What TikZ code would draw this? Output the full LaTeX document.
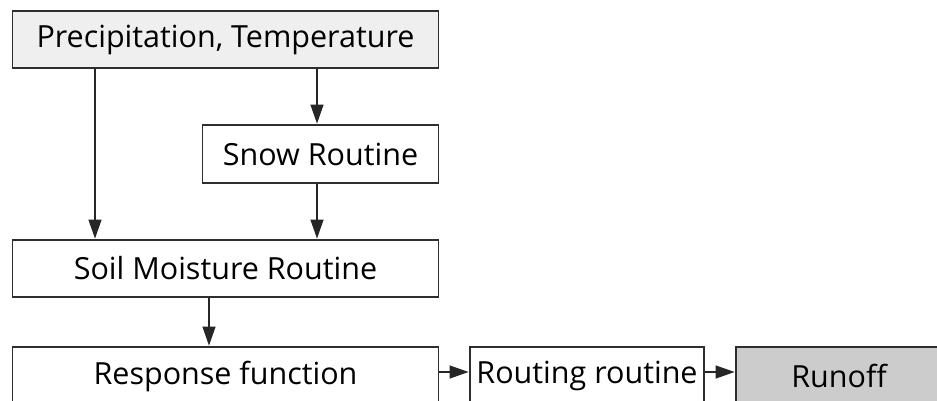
\documentclass[tikz,border=0pt]{standalone}
\usepackage{fontspec}
\setmainfont{Open Sans}
\usetikzlibrary{arrows.meta}
\definecolor{boxline}{HTML}{2E2E2E}
\definecolor{inputfill}{HTML}{EFEFEF}
\definecolor{outputfill}{HTML}{CCCCCC}
\tikzset{
  block/.style={draw=boxline, line width=1.8pt, fill=white, inner sep=0pt,
    font=\fontsize{30.5}{34}\selectfont, text=black},
  flow/.style={draw=black!85, line width=1.2pt,
    -{Triangle[length=19pt,width=13pt]}, shorten >=0.5pt},
}
\begin{document}
\begin{tikzpicture}[x=1pt,y=-1pt]
  \useasboundingbox (0,0) rectangle (937,400);
  \begin{scope}
  \clip (0,0) rectangle (937,400);
  % model blocks
  \node[block, fill=inputfill, minimum width=426pt, minimum height=57pt] (met) at (225.5,39.5) {Precipitation, Temperature};
  \node[block, minimum width=236pt, minimum height=58pt] (snow) at (320.5,154) {Snow Routine};
  \node[block, minimum width=426pt, minimum height=57pt] (soil) at (225.5,268.5) {Soil Moisture Routine};
  \node[block, minimum width=426pt, minimum height=58pt] (resp) at (225.5,376) {Response function};
  \node[block, minimum width=234pt, minimum height=58pt] (rout) at (587,376) {Routing routine};
  \node[block, fill=outputfill, minimum width=206pt, minimum height=58pt] (runoff) at (839,376) {Runoff};
  % connector guides
  \coordinate (xl) at (95,0);
  \coordinate (xr) at (317,0);
  \coordinate (xm) at (209,0);
  \coordinate (yh) at (0,372);
  % connectors
  \draw[flow] (met.south -| xl) -- (soil.north -| xl);
  \draw[flow] (met.south -| xr) -- (snow.north -| xr);
  \draw[flow] (snow.south -| xr) -- (soil.north -| xr);
  \draw[flow] (soil.south -| xm) -- (resp.north -| xm);
  \draw[flow] (resp.east |- yh) -- (rout.west |- yh);
  \draw[flow] (rout.east |- yh) -- (runoff.west |- yh);
  \end{scope}
\end{tikzpicture}
\end{document}
